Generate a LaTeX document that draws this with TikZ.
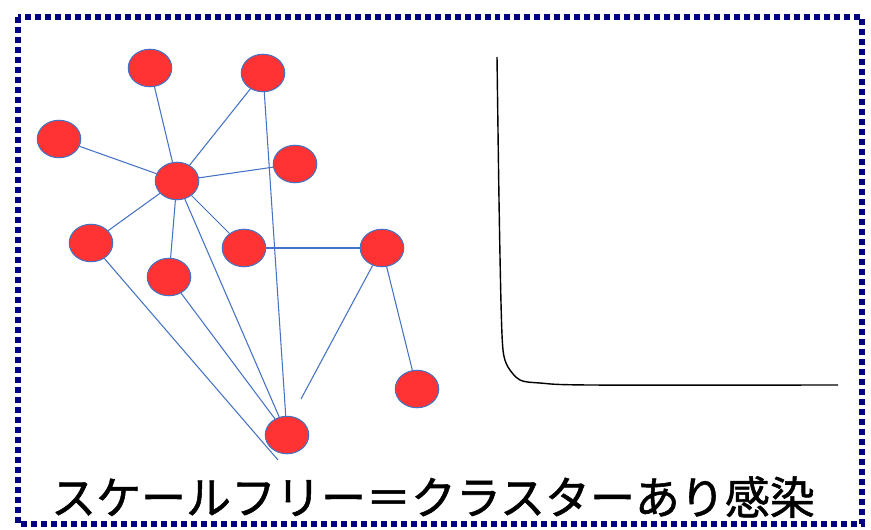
\documentclass[tikz,border=0pt]{standalone}
\usepackage{fontspec}
\newfontfamily\jpfont{Noto Sans CJK JP}[FakeBold=1.2]
\usetikzlibrary{shapes.geometric, backgrounds}

\definecolor{nodered}{RGB}{255,51,51}
\definecolor{edgeblue}{RGB}{68,114,196}
\definecolor{framenavy}{RGB}{0,0,128}

\begin{document}
\begin{tikzpicture}[
  x=0.02cm, y=-0.02cm,
  vertex/.style={
    ellipse,
    draw=edgeblue,
    line width=0.6pt,
    fill=nodered,
    minimum width=0.87cm,
    minimum height=0.75cm,
    inner sep=0pt
    },
  link/.style={
    draw=edgeblue,
    line width=0.6pt
    }
]

\useasboundingbox (0,0) rectangle (871,530);

% frame
\draw[framenavy, line width=3.2pt, dash pattern=on 0.12cm off 0.08cm]
  (18,17) rectangle (862,524);

% network
\node[vertex] (hub) at (177,181) {};
\node[vertex] (top1) at (150,68) {};
\node[vertex] (top2) at (263,73) {};
\node[vertex] (left1) at (59,139) {};
\node[vertex] (right1) at (295,164) {};
\node[vertex] (left2) at (91,243) {};
\node[vertex] (mid) at (244,248) {};
\node[vertex] (east) at (382,248) {};
\node[vertex] (low) at (169,277) {};
\node[vertex] (far) at (417,389) {};
\node[vertex] (bottom) at (287,435) {};

\coordinate (eastend) at (301,399);
\coordinate (left2end) at (278,460);

\begin{scope}[on background layer]
  \draw[link] (hub) -- (top1);
  \draw[link] (hub) -- (top2);
  \draw[link] (hub) -- (left1);
  \draw[link] (hub) -- (right1);
  \draw[link] (hub) -- (left2);
  \draw[link] (hub) -- (low);
  \draw[link] (hub) -- (mid);
  \draw[link] (hub) -- (bottom);
  \draw[link] (top2) -- (bottom);
  \draw[link] (low) -- (bottom);
  \draw[link] (left2) -- (left2end);
  \draw[link] (mid) -- (east);
  \draw[link] (east) -- (far);
  \draw[link] (east) -- (eastend);
\end{scope}

% degree distribution
\draw[black, line width=0.8pt] plot[smooth, tension=0.5] coordinates {
  (497,57) (499,200) (501,303) (503,350) (508,367) (520,380)
  (540,383) (590,385) (838,385)};

% caption
\node[font=\jpfont\fontsize{25.6pt}{30pt}\selectfont, inner sep=0pt] (caption)
  at (433,497) {スケールフリー＝クラスターあり感染};

\end{tikzpicture}
\end{document}
